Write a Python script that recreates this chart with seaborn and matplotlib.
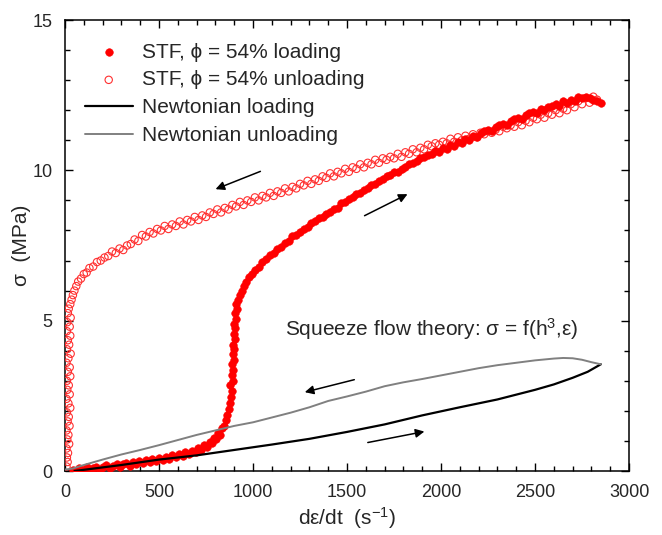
import matplotlib
matplotlib.use("Agg")
import matplotlib.pyplot as plt
import seaborn as sns
from matplotlib.ticker import MultipleLocator

# STF (phi = 54%) loading branch: (strain rate, stress)
stf_loading = [
    (40, 0.05), (60, 0.0), (75, 0.1), (95, 0.04), (115, 0.12), (130, 0.02), (150, 0.1),
    (165, 0.15), (185, 0.05), (200, 0.14), (220, 0.2), (240, 0.1), (255, 0.18), (275, 0.24),
    (290, 0.14), (310, 0.22), (325, 0.28), (345, 0.18), (360, 0.3), (380, 0.22), (395, 0.33),
    (415, 0.26), (430, 0.36), (450, 0.3), (465, 0.4), (485, 0.32), (500, 0.44), (520, 0.36),
    (535, 0.48), (555, 0.4), (570, 0.52), (590, 0.45), (605, 0.56), (625, 0.5), (640, 0.62),
    (660, 0.55), (675, 0.68), (695, 0.62), (710, 0.75), (725, 0.7), (740, 0.85), (755, 0.8),
    (770, 0.98), (780, 0.92), (795, 1.1), (805, 1.05), (815, 1.25), (825, 1.2), (835, 1.42),
    (845, 1.5), (855, 1.7), (862, 1.85), (870, 2.05), (876, 2.25), (882, 2.45), (887, 2.65),
    (880, 2.85), (892, 3.0), (886, 3.2), (895, 3.35), (889, 3.55), (898, 3.7), (892, 3.9),
    (900, 4.05), (894, 4.2), (903, 4.4), (897, 4.55), (906, 4.75), (900, 4.9), (910, 5.05),
    (905, 5.25), (915, 5.4), (910, 5.55), (922, 5.7), (930, 5.85), (940, 6.0), (952, 6.15),
    (965, 6.3), (980, 6.45), (995, 6.55), (1010, 6.7), (1030, 6.8), (1050, 6.95), (1070, 7.05),
    (1090, 7.2), (1110, 7.25), (1130, 7.4), (1150, 7.45), (1170, 7.6), (1190, 7.65), (1210, 7.8),
    (1230, 7.85), (1250, 7.95), (1270, 8.05), (1290, 8.1), (1310, 8.25), (1330, 8.3), (1350, 8.4),
    (1370, 8.45), (1390, 8.55), (1410, 8.6), (1430, 8.7), (1450, 8.75), (1470, 8.9), (1490, 8.95),
    (1510, 9.05), (1530, 9.1), (1550, 9.2), (1570, 9.25), (1590, 9.35), (1610, 9.4), (1630, 9.5),
    (1650, 9.55), (1670, 9.65), (1690, 9.7), (1710, 9.8), (1730, 9.85), (1750, 9.95), (1770, 9.95),
    (1790, 10.05), (1810, 10.1), (1830, 10.2), (1850, 10.25), (1870, 10.3), (1890, 10.4),
    (1910, 10.45), (1930, 10.5), (1950, 10.55), (1970, 10.65), (1990, 10.6), (2010, 10.75),
    (2030, 10.7), (2050, 10.85), (2070, 10.8), (2090, 10.95), (2110, 10.9), (2130, 11.05),
    (2150, 11.0), (2170, 11.15), (2190, 11.1), (2210, 11.25), (2230, 11.3), (2250, 11.35),
    (2270, 11.3), (2290, 11.45), (2310, 11.5), (2330, 11.55), (2350, 11.5), (2370, 11.65),
    (2390, 11.7), (2410, 11.75), (2430, 11.7), (2450, 11.85), (2470, 11.9), (2490, 11.95),
    (2510, 11.9), (2530, 12.05), (2550, 12.0), (2570, 12.1), (2590, 12.15), (2610, 12.2),
    (2630, 12.15), (2650, 12.3), (2670, 12.25), (2690, 12.35), (2710, 12.3), (2730, 12.45),
    (2750, 12.4), (2770, 12.45), (2790, 12.4), (2810, 12.35), (2830, 12.3), (2850, 12.25),
]

# STF (phi = 54%) unloading branch
stf_unloading = [
    (2830, 12.35), (2810, 12.45), (2790, 12.25), (2770, 12.4), (2750, 12.2), (2730, 12.3),
    (2710, 12.1), (2690, 12.2), (2670, 12.0), (2650, 12.05), (2630, 11.9), (2610, 12.0),
    (2590, 11.85), (2570, 11.9), (2550, 11.75), (2530, 11.85), (2510, 11.7), (2490, 11.75),
    (2470, 11.6), (2450, 11.65), (2430, 11.5), (2410, 11.6), (2390, 11.45), (2370, 11.5),
    (2350, 11.4), (2330, 11.45), (2310, 11.3), (2290, 11.35), (2270, 11.25), (2250, 11.3),
    (2230, 11.2), (2210, 11.25), (2190, 11.1), (2170, 11.2), (2150, 11.05), (2130, 11.15),
    (2110, 11.0), (2090, 11.1), (2070, 10.95), (2050, 11.05), (2030, 10.9), (2010, 10.95),
    (1990, 10.85), (1970, 10.9), (1950, 10.8), (1930, 10.85), (1910, 10.7), (1890, 10.75),
    (1870, 10.6), (1850, 10.7), (1830, 10.55), (1810, 10.6), (1790, 10.45), (1770, 10.55),
    (1750, 10.4), (1730, 10.45), (1710, 10.35), (1690, 10.4), (1670, 10.25), (1650, 10.35),
    (1630, 10.2), (1610, 10.25), (1590, 10.1), (1570, 10.2), (1550, 10.05), (1530, 10.1),
    (1510, 9.95), (1490, 10.05), (1470, 9.9), (1450, 9.95), (1430, 9.8), (1410, 9.9),
    (1390, 9.75), (1370, 9.8), (1350, 9.65), (1330, 9.7), (1310, 9.55), (1290, 9.65),
    (1270, 9.5), (1250, 9.55), (1230, 9.4), (1210, 9.45), (1190, 9.3), (1170, 9.4),
    (1150, 9.25), (1130, 9.3), (1110, 9.15), (1090, 9.25), (1070, 9.1), (1050, 9.15),
    (1030, 9.0), (1010, 9.1), (990, 8.95), (970, 9.0), (950, 8.85), (930, 8.95), (910, 8.8),
    (890, 8.85), (870, 8.7), (850, 8.75), (830, 8.6), (810, 8.7), (790, 8.55), (770, 8.6),
    (750, 8.45), (730, 8.5), (710, 8.35), (690, 8.45), (670, 8.3), (650, 8.35), (630, 8.2),
    (610, 8.3), (590, 8.15), (570, 8.2), (550, 8.05), (530, 8.15), (510, 8.0), (490, 8.05),
    (470, 7.9), (450, 7.95), (430, 7.8), (410, 7.85), (390, 7.65), (370, 7.7), (350, 7.55),
    (330, 7.5), (310, 7.35), (290, 7.4), (270, 7.25), (250, 7.3), (230, 7.15), (210, 7.1),
    (190, 7.0), (170, 6.95), (150, 6.8), (130, 6.75), (115, 6.6), (100, 6.55), (85, 6.4),
    (70, 6.3), (60, 6.15), (50, 6.0), (42, 5.85), (35, 5.7), (28, 5.55), (20, 5.4),
    (15, 5.25), (30, 5.1), (12, 4.95), (25, 4.8), (10, 4.65), (28, 4.5), (15, 4.35),
    (22, 4.2), (10, 4.05), (30, 3.9), (18, 3.75), (8, 3.6), (25, 3.45), (15, 3.3), (28, 3.15),
    (10, 3.0), (20, 2.85), (12, 2.7), (25, 2.55), (8, 2.4), (18, 2.25), (28, 2.1), (10, 1.95),
    (20, 1.8), (14, 1.65), (24, 1.5), (8, 1.35), (18, 1.2), (12, 1.05), (22, 0.9), (8, 0.75),
    (16, 0.6), (10, 0.45), (14, 0.3), (8, 0.15),
]

# Newtonian fluid, loading and unloading
newt_loading = [
    (50, 0.0), (150, 0.08), (300, 0.2), (500, 0.38), (700, 0.52), (900, 0.7), (1100, 0.88),
    (1300, 1.07), (1500, 1.3), (1700, 1.55), (1900, 1.85), (2100, 2.12), (2300, 2.38),
    (2500, 2.7), (2600, 2.88), (2700, 3.1), (2780, 3.3), (2850, 3.55),
]
newt_unloading = [
    (2850, 3.55), (2800, 3.62), (2750, 3.7), (2700, 3.75), (2650, 3.76), (2600, 3.74),
    (2500, 3.68), (2400, 3.6), (2300, 3.52), (2200, 3.42), (2100, 3.3), (2000, 3.18),
    (1900, 3.06), (1800, 2.95), (1700, 2.82), (1600, 2.64), (1500, 2.48), (1400, 2.33),
    (1300, 2.12), (1200, 1.94), (1100, 1.78), (1000, 1.62), (900, 1.5), (800, 1.35),
    (700, 1.2), (600, 1.03), (500, 0.86), (400, 0.7), (300, 0.55), (200, 0.38), (100, 0.2),
    (40, 0.08), (0, 0.05),
]

x_ticks = [0, 500, 1000, 1500, 2000, 2500, 3000]
y_ticks = [0, 5, 10, 15]

sns.set_theme(style="ticks")
plt.rcParams["font.family"] = ["Liberation Sans", "DejaVu Sans"]
plt.rcParams["mathtext.default"] = "regular"

fig = plt.figure(figsize=(6.62, 5.35), dpi=100)
ax = fig.add_axes([0.0982, 0.1196, 0.852, 0.843])


def split(pairs):
    return [p[0] for p in pairs], [p[1] for p in pairs]


lx, ly = split(stf_loading)
ux, uy = split(stf_unloading)
nlx, nly = split(newt_loading)
nux, nuy = split(newt_unloading)

sns.scatterplot(x=lx, y=ly, ax=ax, marker="o", s=30, color="#ff0000",
                edgecolor="#ff0000", linewidth=0.4, zorder=4,
                label="STF, \u03d5 = 54% loading")
sns.scatterplot(x=ux, y=uy, ax=ax, marker="o", s=28, facecolor="none",
                edgecolor="#ff3030", linewidth=0.8, zorder=3,
                label="STF, \u03d5 = 54% unloading")
sns.lineplot(x=nlx, y=nly, ax=ax, sort=False, estimator=None, color="black",
             lw=1.6, zorder=5, label="Newtonian loading")
sns.lineplot(x=nux, y=nuy, ax=ax, sort=False, estimator=None, color="#808080",
             lw=1.4, zorder=5, label="Newtonian unloading")

ax.set_xlim(0, 3000)
ax.set_ylim(0, 15)
ax.set_xticks(x_ticks)
ax.set_yticks(y_ticks)
ax.xaxis.set_minor_locator(MultipleLocator(100))
ax.yaxis.set_minor_locator(MultipleLocator(1))
ax.tick_params(which="both", direction="in", top=True, right=True,
               width=1.0, color="black", labelsize=13, pad=9)
ax.tick_params(which="major", length=6)
ax.tick_params(which="minor", length=3.5)
for sp in ax.spines.values():
    sp.set_linewidth(1.1)
    sp.set_color("black")

ax.set_xlabel("d\u03b5/dt  (s$^{-1}$)", fontsize=15, labelpad=3)
ax.set_ylabel("\u03c3  (MPa)", fontsize=15, labelpad=1)

# direction arrows along each branch
arrow = dict(arrowstyle="-|>", color="black", lw=1.1, mutation_scale=13)
ax.annotate("", xy=(787, 9.34), xytext=(1053, 10.0), arrowprops=arrow)
ax.annotate("", xy=(1835, 9.25), xytext=(1580, 8.45), arrowprops=arrow)
ax.annotate("", xy=(1261, 2.6), xytext=(1553, 3.06), arrowprops=arrow)
ax.annotate("", xy=(1926, 1.33), xytext=(1596, 0.93), arrowprops=arrow)

ax.text(1170, 4.72, "Squeeze flow theory: \u03c3 = f(h$^3$,\u03b5)",
        fontsize=15, ha="left", va="center")

handles, labels = ax.get_legend_handles_labels()
ax.legend(handles, labels, loc="upper left", bbox_to_anchor=(0.035, 0.95),
          frameon=False, fontsize=15, handlelength=2.3, handletextpad=0.45,
          labelspacing=0.42, borderaxespad=0, borderpad=0, markerscale=1.0)

fig.savefig("out.png", dpi=100)
